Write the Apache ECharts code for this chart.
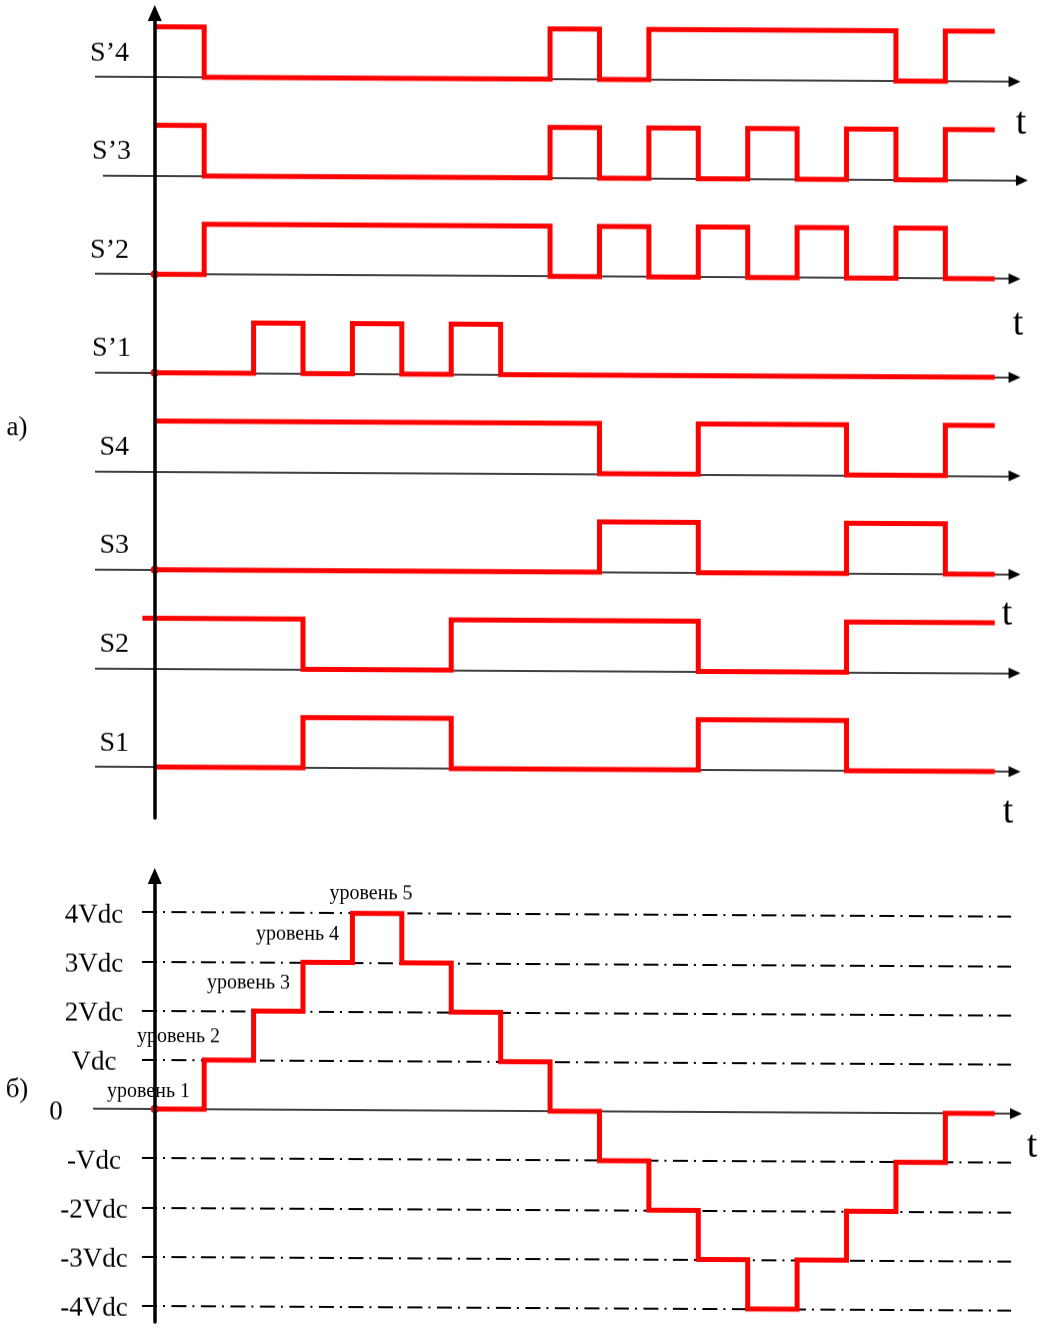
<!DOCTYPE html>
<html><head><meta charset="utf-8">
<script src="https://cdn.jsdelivr.net/npm/echarts@6/dist/echarts.min.js"></script>
<style>
html,body{margin:0;padding:0;background:#fff;}
#chart{width:1044px;height:1328px;transform:skewY(0.31deg);transform-origin:155px 0;}
</style></head><body><div id="chart"></div>
<script>
// ---- data ----
const signalNames = ['S1', 'S2', 'S3', 'S4', 'S’1', 'S’2', 'S’3', 'S’4'];
const S1  = [0,0,0,1,1,1,0,0,0,0,0,1,1,1,0,0,0];
const S2  = [1,1,1,0,0,0,1,1,1,1,1,0,0,0,1,1,1];
const S3  = [0,0,0,0,0,0,0,0,0,1,1,0,0,0,1,1,0];
const S4  = [1,1,1,1,1,1,1,1,1,0,0,1,1,1,0,0,1];
const Sp1 = [0,0,1,0,1,0,1,0,0,0,0,0,0,0,0,0,0];
const Sp2 = [0,1,1,1,1,1,1,1,0,1,0,1,0,1,0,1,0];
const Sp3 = [1,0,0,0,0,0,0,0,1,0,1,0,1,0,1,0,1];
const Sp4 = [1,0,0,0,0,0,0,0,1,0,1,1,1,1,1,0,1];
const levelSteps = [0,1,2,3,4,3,2,1,0,-1,-2,-3,-4,-3,-2,-1,0];
const vTickValues = [4, 3, 2, 1, 0, -1, -2, -3, -4];
const vTickLabels = ['4Vdc', '3Vdc', '2Vdc', 'Vdc', '0', '-Vdc', '-2Vdc', '-3Vdc', '-4Vdc'];
const levelNames = ['уровень 1', 'уровень 2', 'уровень 3', 'уровень 4', 'уровень 5'];
const timeLabel = 't';
const panelLabels = ['а)', 'б)'];

// ---- build ----
const signals = [S1, S2, S3, S4, Sp1, Sp2, Sp3, Sp4];
const FONT = '"Liberation Serif","Times New Roman",serif';
const RED = '#ff0000';
const GAP = 2, AMP = 1.02;
const TAN = Math.tan(0.31 * Math.PI / 180);
const fix = (x, y) => y - TAN * (x - 155);

function stepPoints(levels, base, amp, start, dot) {
  const pts = [];
  levels.forEach((v, i) => {
    const y = base + v * amp;
    pts.push([i === 0 ? start : i, y]);
    pts.push([i + 1, y]);
  });
  if (dot) pts[0] = { value: pts[0], symbol: 'circle', symbolSize: 8 };
  return pts;
}

const dotStart = { 'S’2': true, 'S’1': true, 'S3': true };
const series = [];

// baselines with arrows
series.push({
  type: 'line', xAxisIndex: 0, yAxisIndex: 0, data: [], silent: true,
  markLine: {
    z: 1, silent: true, animation: false, symbol: ['none', 'triangle'], symbolSize: [11, 12],
    label: { show: false }, emphasis: { disabled: true },
    lineStyle: { color: '#000', width: 1.6, type: 'solid' },
    data: signalNames.map((n, k) => {
      const sp = n === 'S’3';
      return [{ coord: [sp ? -1.05 : -1.21, k * GAP] }, { coord: [sp ? 17.55 : 17.4, k * GAP] }];
    })
  }
});

signals.forEach((lv, k) => {
  series.push({
    type: 'line', name: signalNames[k], xAxisIndex: 0, yAxisIndex: 0, z: 3,
    data: stepPoints(lv, k * GAP, AMP, signalNames[k] === 'S2' ? -0.25 : 0, !!dotStart[signalNames[k]]),
    symbol: 'none', showSymbol: true, itemStyle: { color: RED },
    lineStyle: { color: RED, width: 5, join: 'miter', cap: 'butt' },
    silent: true, animation: false
  });
});

// level grid lines (dash-dot)
series.push({
  type: 'line', xAxisIndex: 1, yAxisIndex: 1, data: [], silent: true,
  markLine: {
    z: 1, silent: true, animation: false, symbol: ['none', 'none'],
    label: { show: false }, emphasis: { disabled: true },
    lineStyle: { color: '#000', width: 2, type: [15, 6, 2, 6.5] },
    data: vTickValues.filter(v => v !== 0).map(v => [{ coord: [-0.26, v] }, { coord: [17.33, v] }])
  }
});
// zero line with arrow
series.push({
  type: 'line', xAxisIndex: 1, yAxisIndex: 1, data: [], silent: true,
  markLine: {
    z: 1, silent: true, animation: false, symbol: ['none', 'triangle'], symbolSize: [11, 12],
    label: { show: false }, emphasis: { disabled: true },
    lineStyle: { color: '#000', width: 1.6, type: 'solid' },
    data: [[{ coord: [-1.25, 0] }, { coord: [17.43, 0] }]]
  }
});
series.push({
  type: 'line', name: 'level', xAxisIndex: 1, yAxisIndex: 1, z: 3,
  data: stepPoints(levelSteps, 0, 1, 0, true),
  symbol: 'none', showSymbol: true, itemStyle: { color: RED },
  lineStyle: { color: RED, width: 5, join: 'miter', cap: 'butt' },
  silent: true, animation: false
});

const vAxisLine = { show: true, onZero: true, symbol: ['none', 'triangle'], symbolSize: [14, 16],
  lineStyle: { color: '#000', width: 3.5 } };

const graphics = [];
function txt(text, x, y, size, align) {
  graphics.push({ type: 'text', x: x, y: fix(x, y), silent: true, z: 10,
    style: { text: text, font: size + 'px ' + FONT, fill: '#000', align: align || 'center', verticalAlign: 'middle' } });
}
// signal names
const baseTop = 767, basePitch = 98.57;
signalNames.forEach((n, k) => {
  const right = (n === 'S’3' || n === 'S’1') ? 131 : 129;
  txt(n, right, baseTop - k * basePitch - 24, 28, 'right');
});
// time labels
[[1021, 124], [1018, 325], [1007, 615], [1008, 813], [1032, 1147]].forEach(p => txt(timeLabel, p[0], p[1], 38));
// panel labels
txt(panelLabels[0], 17, 428, 27);
txt(panelLabels[1], 17, 1090, 27);
// level labels
[[148.5, 1092], [178.5, 1037], [248.5, 983], [297.5, 935], [371, 894]].forEach((p, i) => txt(levelNames[i], p[0], p[1], 20));

const option = {
  animation: false,
  backgroundColor: '#fff',
  grid: [
    { left: 93, right: 9.7, top: 13, bottom: 510, containLabel: false, outerBoundsMode: 'none' },
    { left: 93, right: 9.7, top: 876, bottom: 6, containLabel: false, outerBoundsMode: 'none' }
  ],
  xAxis: [
    { type: 'value', gridIndex: 0, min: -1.25, max: 17.8, show: false },
    { type: 'value', gridIndex: 1, min: -1.25, max: 17.8, show: false }
  ],
  yAxis: [
    { type: 'value', gridIndex: 0, min: -1.035, max: 15.30, z: 5,
      axisLine: vAxisLine, axisTick: { show: false }, axisLabel: { show: false }, splitLine: { show: false } },
    { type: 'value', gridIndex: 1, min: -4.33, max: 4.736, splitNumber: 9, z: 5,
      axisLine: vAxisLine, axisTick: { show: false }, splitLine: { show: false },
      axisLabel: {
        show: true, margin: -1, align: 'center', color: '#000', fontFamily: FONT, fontSize: 27,
        showMinLabel: false, showMaxLabel: false, hideOverlap: false,
        formatter: function (v) {
          const i = Math.round(v);
          if (Math.abs(v - i) > 1e-6) return '';
          const idx = vTickValues.indexOf(i);
          if (idx < 0) return '';
          return i === 0 ? '{z|' + vTickLabels[idx] + '}' : '{n|' + vTickLabels[idx] + '}';
        },
        rich: {
          n: { fontFamily: FONT, fontSize: 27, color: '#000', padding: [7, 0, 0, 0] },
          z: { fontFamily: FONT, fontSize: 27, color: '#000', padding: [7, 76, 0, 0] }
        }
      } }
  ],
  graphic: graphics,
  series: series
};
const chart = echarts.init(document.getElementById('chart'));
chart.setOption(option);
</script></body></html>
